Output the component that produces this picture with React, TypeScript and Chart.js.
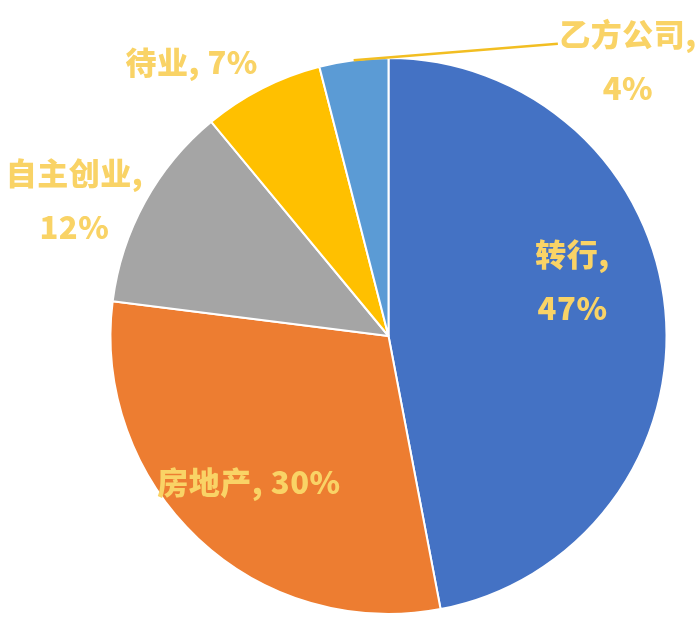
import React, { useEffect, useRef } from "react";
import { Chart, registerables } from "chart.js";

Chart.register(...registerables);

const categories = ["转行", "房地产", "自主创业", "待业", "乙方公司"];
const values = [47, 30, 12, 7, 4];
const percentLabels = ["47%", "30%", "12%", "7%", "4%"];

const colors = ["#4472C4", "#ED7D31", "#A5A5A5", "#FFC000", "#5B9BD5"];

// label layout: offsets from pie centre in radius units, and whether split on two lines
const labelLayout = [
  { dx: 0.662, dy: -0.197, twoLine: true },
  { dx: -0.502, dy: 0.527, twoLine: false },
  { dx: -1.13, dy: -0.49, twoLine: true },
  { dx: -0.708, dy: -0.986, twoLine: false },
  { dx: 0.861, dy: -0.99, twoLine: true },
];

const labelPlugin = {
  id: "pieLabels",
  afterDraw(chart: any) {
    const ctx = chart.ctx;
    const meta = chart.getDatasetMeta(0);
    ctx.save();
    ctx.font = "900 31px 'Noto Sans CJK SC', 'Noto Sans', sans-serif";
    try {
      (ctx as any).letterSpacing = "0.5px";
    } catch (e) {}
    ctx.fillStyle = "#F9D366";
    ctx.textAlign = "center";
    ctx.textBaseline = "middle";
    meta.data.forEach((arc: any, i: number) => {
      const { x, y, outerRadius } = arc.getProps(["x", "y", "outerRadius"], true);
      const lay = labelLayout[i];
      const cx = x + lay.dx * outerRadius;
      const cy = y + lay.dy * outerRadius;
      const name = categories[i] + ",";
      if (lay.twoLine) {
        ctx.fillText(name, cx, cy - 27);
        ctx.fillText(percentLabels[i], cx, cy + 27);
      } else {
        ctx.fillText(name + " " + percentLabels[i], cx, cy);
      }
    });
    // leader line for the small slice
    const idx = 4;
    const arc: any = meta.data[idx];
    const { x, y, outerRadius, startAngle, endAngle } = arc.getProps(
      ["x", "y", "outerRadius", "startAngle", "endAngle"],
      true
    );
    const mid = (startAngle + endAngle) / 2;
    const sx = x + Math.cos(mid) * outerRadius;
    const sy = y + Math.sin(mid) * outerRadius;
    const lay = labelLayout[idx];
    const ex = x + lay.dx * outerRadius - 70;
    const ey = y + lay.dy * outerRadius - 17;
    ctx.strokeStyle = "#F2BE22";
    ctx.lineWidth = 2.5;
    ctx.beginPath();
    ctx.moveTo(sx, sy);
    ctx.lineTo(ex, ey);
    ctx.stroke();
    ctx.restore();
  },
};

export default function App() {
  const ref = useRef<HTMLCanvasElement>(null);
  useEffect(() => {
    if (!ref.current) return;
    const chart = new Chart(ref.current, {
      type: "pie",
      data: {
        labels: categories,
        datasets: [
          {
            data: values,
            backgroundColor: colors,
            borderColor: "#FFFFFF",
            borderWidth: 2,
          },
        ],
      },
      options: {
        responsive: false,
        animation: false,
        layout: { padding: { left: 109, right: 32, top: 57, bottom: 11 } },
        plugins: {
          legend: { display: false },
          tooltip: { enabled: false },
        },
      },
      plugins: [labelPlugin],
    });
    return () => chart.destroy();
  }, []);
  return (
    <div style={{ position: "absolute", left: 0, top: 0, width: 700, height: 626, background: "#fff" }}>
      <canvas ref={ref} width={700} height={626} />
    </div>
  );
}
